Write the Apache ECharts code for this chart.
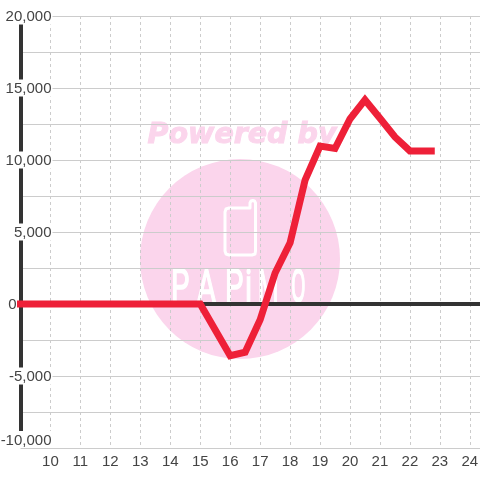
<!DOCTYPE html>
<html>
<head>
<meta charset="utf-8">
<style>
  html, body { margin: 0; padding: 0; background: #fff; }
  #chart { width: 480px; height: 480px; }
</style>
<script src="https://cdn.jsdelivr.net/npm/echarts@6/dist/echarts.min.js"></script>
</head>
<body>
<div id="chart"></div>
<script>
const hours = [8.88, 10, 11, 12, 13, 14, 14.5, 15, 16, 16.5, 17, 17.5, 18, 18.5, 19, 19.5, 20, 20.5, 21, 21.5, 22, 22.83];
const values = [0, 0, 0, 0, 0, 0, 0, 0, -3590, -3350, -1100, 2150, 4250, 8600, 10970, 10800, 12850, 14170, 12900, 11600, 10630, 10630];
const zeroHours = [9, 24.34];
const zeroValues = [0, 0];

const textColor = "#444";
const gridColor = "#ccc";
const pink = "#fbd5ec";

// watermark letters, spaced by hand
const logoLetters = ["P", "A", "P", "i", "M", "O"];
const logoX = [171, 197, 225, 245, 258, 291];
const logoScale = [0.62, 0.62, 0.62, 0.62, 0.5, 0.45];
const phoneOutline = [
  [250, 208], [229, 208], [226, 209], [225, 212], [225, 251], [226, 254], [229, 255],
  [252, 255], [255, 254], [255.5, 251], [255.5, 203], [254.5, 201], [252.75, 200.5],
  [251, 201], [250, 203], [250, 208],
];

const chart = echarts.init(document.getElementById("chart"));

chart.setOption({
  animation: false,
  backgroundColor: "#fff",
  textStyle: { fontFamily: "Liberation Sans" },
  grid: { left: 20.5, right: 0, top: 16, bottom: 32, outerBoundsMode: "none" },
  xAxis: {
    type: "value",
    min: 9,
    max: 24.34,
    interval: 1,
    axisLine: { show: false },
    axisTick: { show: false },
    axisLabel: {
      color: textColor,
      fontSize: 15,
      margin: 6,
      formatter: (v) => (v >= 10 && Number.isInteger(v) ? String(v) : ""),
    },
    splitLine: { lineStyle: { color: gridColor, type: [3, 3], width: 1 } },
  },
  yAxis: {
    type: "value",
    min: -10000,
    max: 20000,
    interval: 2500,
    axisLine: { show: true, onZero: false, lineStyle: { color: "#333", width: 4, cap: "butt" } },
    axisTick: { show: false },
    axisLabel: {
      inside: true,
      align: "right",
      margin: 32,
      color: textColor,
      fontSize: 15,
      verticalAlignMinLabel: "bottom",
      formatter: (v) => {
        if (v === 0) return "{plain|0}{gap| }";
        return v % 5000 === 0 ? `{num|${v.toLocaleString("en-US")}}` : "";
      },
      rich: {
        num: { color: textColor, fontSize: 15, backgroundColor: "#fff", padding: [2, 1, 0, 0] },
        plain: { color: textColor, fontSize: 15, padding: [2, 0, 0, 0] },
        gap: { width: 36, fontSize: 15 },
      },
    },
    splitLine: { lineStyle: { color: gridColor, width: 1 } },
  },
  graphic: {
    elements: [
      { type: "circle", z: -10, shape: { cx: 240, cy: 259, r: 100 }, style: { fill: pink } },
      {
        type: "text", z: -10, x: 242, y: 136,
        style: {
          text: "Powered by", fill: pink, stroke: pink, lineWidth: 1,
          font: "italic bold 28.5px 'DejaVu Sans'",
          align: "center", verticalAlign: "middle",
        },
      },
      {
        type: "polyline", z: -9,
        shape: { points: phoneOutline },
        style: { fill: "none", stroke: "#fff", lineWidth: 3, lineCap: "round", lineJoin: "round" },
      },
      ...logoLetters.map((letter, i) => ({
        type: "text", z: -9, x: logoX[i], y: 290, scaleX: logoScale[i],
        style: {
          text: letter, fill: "#fff", stroke: "#fff", lineWidth: 1.5,
          font: "400 47px Roboto",
          align: "left", verticalAlign: "middle",
        },
      })),
    ],
  },
  series: [
    {
      name: "zero",
      type: "line",
      z: 2,
      silent: true,
      symbol: "none",
      data: zeroHours.map((h, i) => [h, zeroValues[i]]),
      lineStyle: { color: "#333", width: 4 },
    },
    {
      name: "value",
      type: "line",
      z: 3,
      clip: false,
      symbol: "none",
      data: hours.map((h, i) => [h, values[i]]),
      lineStyle: { color: "#ee2038", width: 7, join: "miter" },
    },
  ],
});
</script>
</body>
</html>
